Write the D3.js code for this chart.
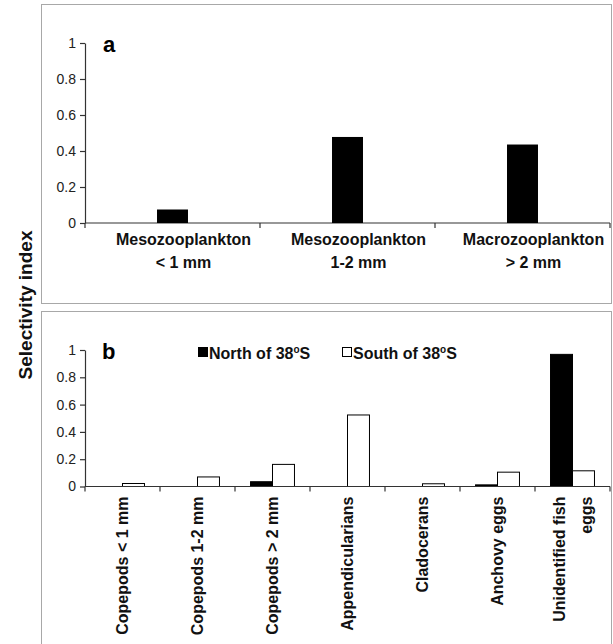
<!DOCTYPE html>
<html>
<head>
<meta charset="utf-8">
<title>Selectivity index</title>
<script src="https://d3js.org/d3.v7.min.js"></script>
<style>
body { margin: 0; background: #fff; }
svg { font-family: "Liberation Sans", Arial, sans-serif; }
.box { fill: none; stroke: #a8a8a8; stroke-width: 1; }
.axis path, .axis line, .xline { stroke: #333; stroke-width: 1.2; }
.cat { font-size: 16px; font-weight: bold; fill: #111; }
.axis .tick text { font-size: 14px; fill: #222; }
</style>
</head>
<body>
<svg width="613" height="644"></svg>
<script>
// panel a
var catsA = [["Mesozooplankton", "< 1 mm"], ["Mesozooplankton", "1-2 mm"], ["Macrozooplankton", "> 2 mm"]];
var valsA = [0.075, 0.478, 0.436];
// panel b
var catsB = [["Copepods < 1 mm"], ["Copepods 1-2 mm"], ["Copepods > 2 mm"], ["Appendicularians"],
             ["Cladocerans"], ["Anchovy eggs"], ["Unidentified fish", "eggs"]];
var northB = [0, 0, 0.035, 0, 0, 0.012, 0.968];
var southB = [0.022, 0.07, 0.162, 0.524, 0.02, 0.105, 0.115];
var seriesNames = ["North of 38", "South of 38"];
var yTicks = [0, 0.2, 0.4, 0.6, 0.8, 1];

var svg = d3.select("svg");

svg.append("rect").attr("class", "box").attr("x", 41.5).attr("y", 4.5).attr("width", 570).attr("height", 299);
svg.append("rect").attr("class", "box").attr("x", 41.5).attr("y", 311.5).attr("width", 570).attr("height", 340);

svg.append("text").attr("transform", "translate(25,305) rotate(-90)").attr("text-anchor", "middle")
  .attr("dy", "0.35em").style("font-size", "19px").style("font-weight", "bold").attr("fill", "#111")
  .text("Selectivity index");

function xBase(g, x, y0) {
  g.append("line").attr("class", "xline").attr("x1", x.range()[0]).attr("x2", x.range()[1]).attr("y1", y0).attr("y2", y0);
  var bounds = x.domain().map(function(d) { return x(d); }).concat([x.range()[1]]);
  g.selectAll(".xt").data(bounds).enter().append("line").attr("class", "xline")
    .attr("x1", function(d) { return d; }).attr("x2", function(d) { return d; })
    .attr("y1", y0).attr("y2", y0 + 5);
}

function yAxis(g, y) {
  g.call(d3.axisLeft(y).tickValues(yTicks).tickSize(5).tickSizeOuter(0).tickFormat(function(d) { return String(d); }));
  g.attr("font-size", 14).attr("font-family", null);
  g.selectAll(".tick text").attr("x", -9);
}

// ---- panel a
var xa = d3.scaleBand().domain(d3.range(catsA.length)).range([85, 610]);
var ya = d3.scaleLinear().domain([0, 1]).range([223, 43]);
var ga = svg.append("g");
ga.append("g").attr("class", "axis").attr("transform", "translate(85,0)").call(yAxis, ya);
xBase(ga, xa, ya(0));
var bwA = xa.bandwidth() * 0.177;
ga.selectAll(".bar").data(valsA).enter().append("rect")
  .attr("x", function(d, i) { return xa(i) + xa.bandwidth() / 2 - bwA / 2; })
  .attr("y", function(d) { return ya(d); })
  .attr("width", bwA).attr("height", function(d) { return ya(0) - ya(d); })
  .attr("fill", "#000");
var labA = ga.selectAll(".cat").data(catsA).enter().append("text").attr("class", "cat")
  .attr("text-anchor", "middle")
  .attr("transform", function(d, i) { return "translate(" + (xa(i) + xa.bandwidth() / 2 + 11) + "," + (ya(0) + 22) + ")"; });
labA.append("tspan").attr("x", 0).attr("y", 0).text(function(d) { return d[0]; });
labA.append("tspan").attr("x", 0).attr("y", 23).text(function(d) { return d[1]; });
ga.append("text").attr("x", 103).attr("y", 52).style("font-size", "22px").style("font-weight", "bold").text("a");

// ---- panel b
var xb = d3.scaleBand().domain(d3.range(catsB.length)).range([85, 610]);
var yb = d3.scaleLinear().domain([0, 1]).range([486.5, 350]);
var gb = svg.append("g");
gb.append("g").attr("class", "axis").attr("transform", "translate(85,0)").call(yAxis, yb);
var bwB = xb.bandwidth() * 0.293;
var pairs = northB.map(function(n, i) { return [{s: 0, v: n, i: i}, {s: 1, v: southB[i], i: i}]; });
var colors = ["#000", "#fff"];
gb.selectAll(".grp").data(pairs).enter().append("g")
  .selectAll("rect").data(function(d) { return d; }).enter().append("rect")
  .attr("x", function(d) { return xb(d.i) + xb.bandwidth() / 2 - bwB + d.s * bwB; })
  .attr("y", function(d) { return yb(d.v); })
  .attr("width", bwB).attr("height", function(d) { return yb(0) - yb(d.v); })
  .attr("fill", function(d) { return colors[d.s]; })
  .attr("stroke", function(d) { return d.v > 0 ? "#000" : "none"; }).attr("stroke-width", 1);
xBase(gb, xb, yb(0));
var labB = gb.selectAll(".cat").data(catsB).enter().append("text").attr("class", "cat")
  .attr("text-anchor", "end")
  .attr("transform", function(d, i) { return "translate(" + (xb(i) + xb.bandwidth() / 2) + "," + (yb(0) + 10) + ") rotate(-90)"; });
labB.selectAll("tspan").data(function(d) { return d.map(function(t, k) { return {t: t, k: k, n: d.length}; }); })
  .enter().append("tspan").attr("x", 0)
  .attr("y", function(d) { return (d.k - (d.n - 1) / 2) * 27; })
  .attr("dy", "0.35em").text(function(d) { return d.t; });
gb.append("text").attr("x", 102).attr("y", 359).style("font-size", "22px").style("font-weight", "bold").text("b");

// legend
var leg = gb.selectAll(".leg").data(seriesNames).enter().append("g")
  .attr("transform", function(d, i) { return "translate(" + (198 + i * 144) + ",347)"; });
leg.append("rect").attr("x", 0.5).attr("y", 0.5).attr("width", 9).attr("height", 9)
  .attr("fill", function(d, i) { return colors[i]; }).attr("stroke", "#000");
var lt = leg.append("text").attr("x", 11).attr("y", 12).style("font-size", "16px").style("font-weight", "bold").attr("fill", "#111");
lt.append("tspan").text(function(d) { return d; });
lt.append("tspan").attr("dy", -6).style("font-size", "10px").text("o");
lt.append("tspan").attr("dy", 6).text("S");
</script>
</body>
</html>
